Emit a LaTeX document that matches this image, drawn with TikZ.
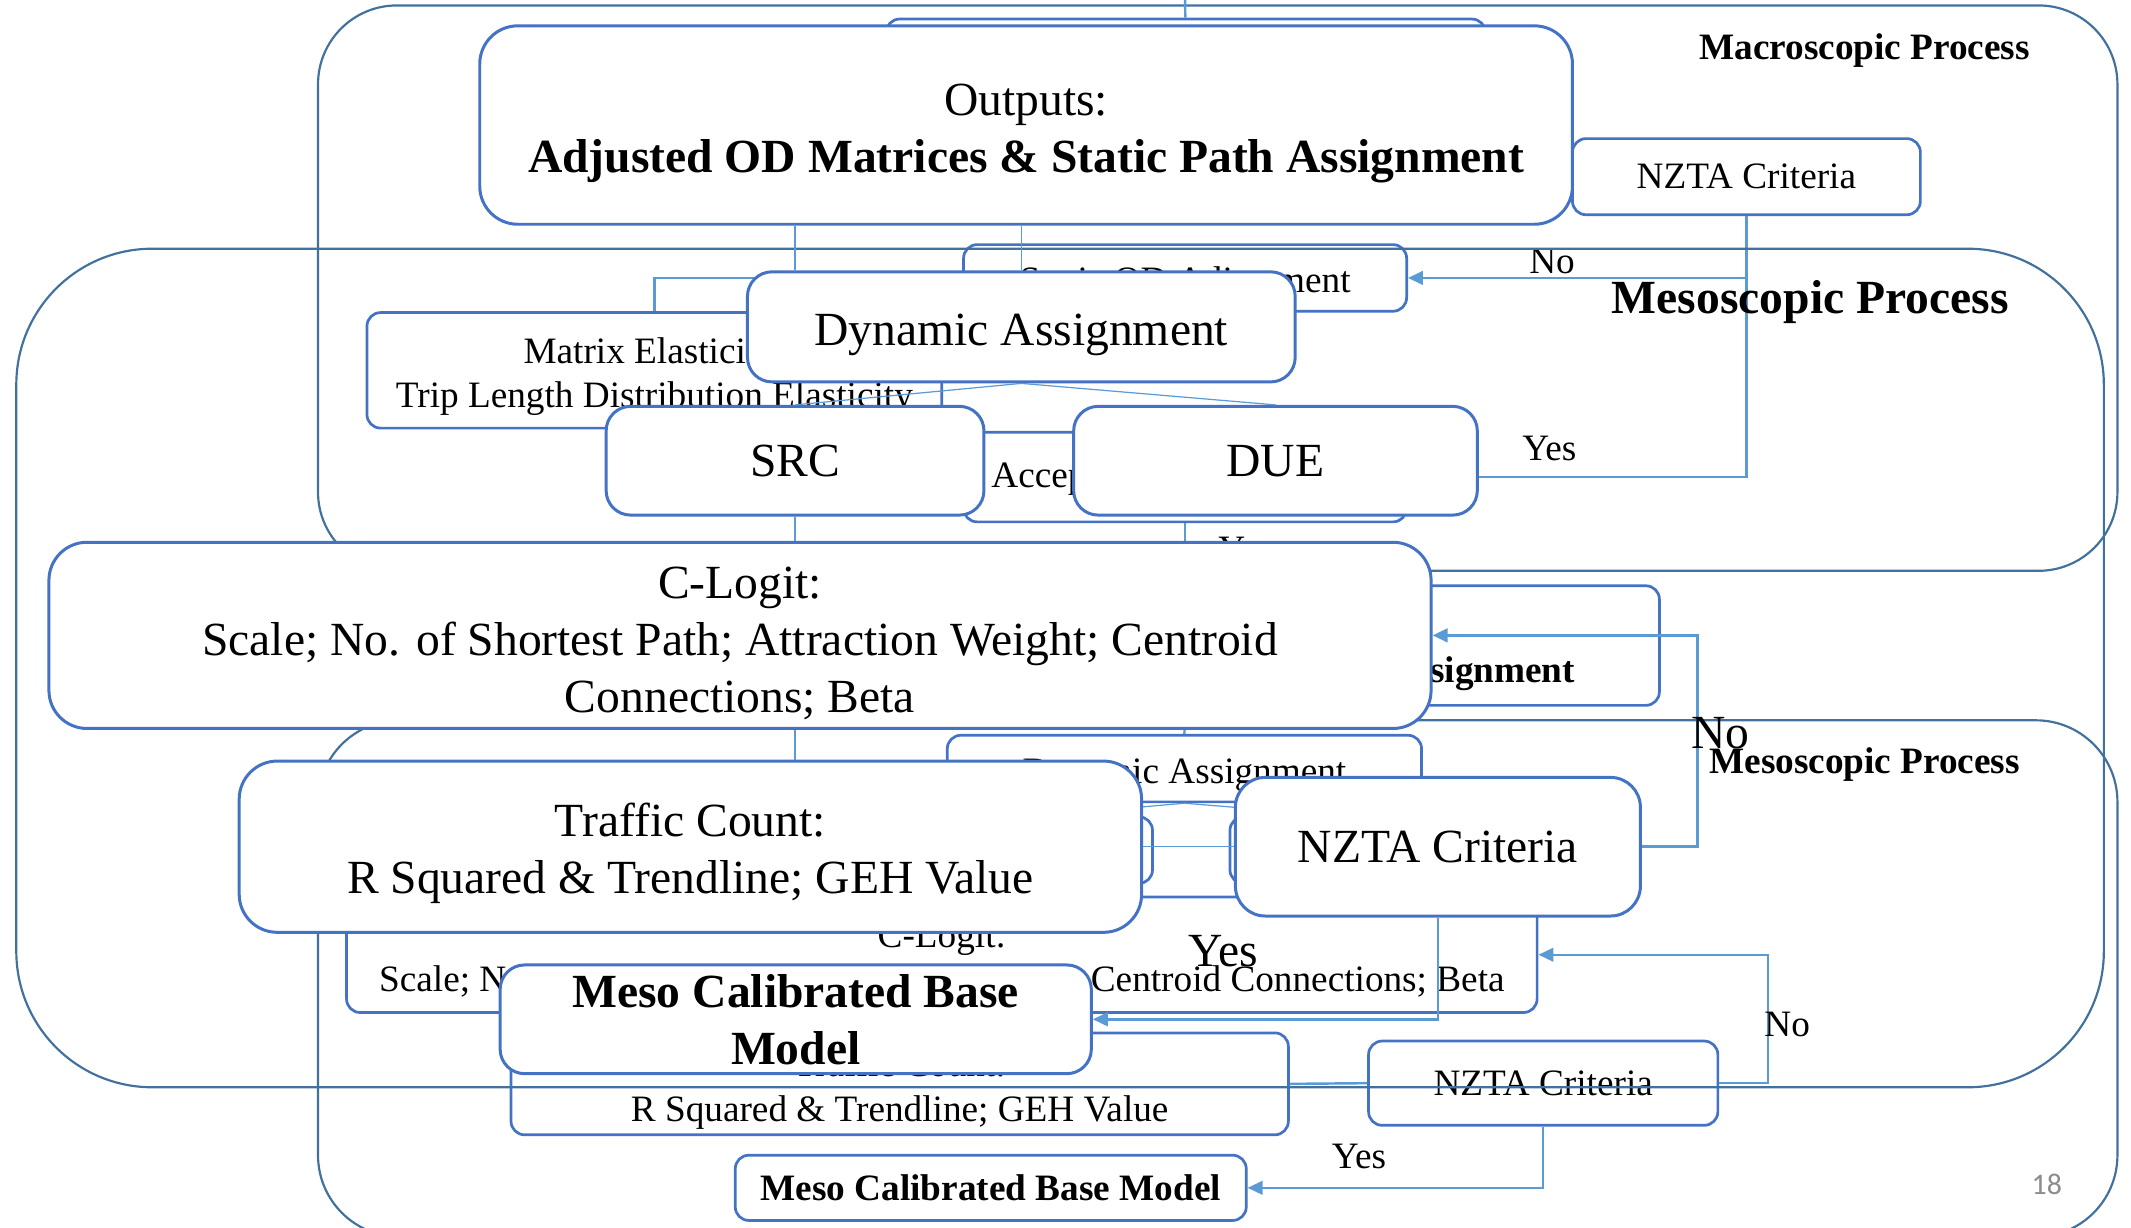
\documentclass[tikz,border=0pt]{standalone}
\usepackage{fontspec}
\setmainfont{Liberation Serif}
\newfontfamily\pagefont{Carlito}
\usepackage{xcolor}
\usetikzlibrary{arrows.meta}
\definecolor{framec}{HTML}{41719C}
\definecolor{boxc}{HTML}{4472C4}
\definecolor{flowc}{HTML}{5B9BD5}
\newcommand\bigtext{\fontsize{35}{42}\selectfont}
\newcommand\smalltext{\fontsize{27.4}{32.5}\selectfont}
\newcommand\bigstrut{\rule{0pt}{35pt}}
\newcommand\smallstrut{\rule{0pt}{28pt}}

\begin{document}
\begin{tikzpicture}[x=1pt, y=-1pt,
  outerframe/.style={draw=framec, line width=1.6pt},
  smallbox/.style={draw=boxc, line width=2pt, fill=white, rounded corners=10pt, inner sep=0pt, align=center, font=\smalltext},
  bigbox/.style={draw=boxc, line width=2.2pt, fill=white, rounded corners=18pt, inner sep=0pt, align=center, font=\bigtext},
  flow/.style={draw=flowc, line width=1.8pt},
  thinflow/.style={draw=flowc, line width=0.9pt},
  arrowed/.style={-{Triangle[length=11pt,width=10pt]}},
  every node/.style={font=\smalltext}]
  \useasboundingbox (0,0) rectangle (1568,903);

  % macroscopic slide
  \draw[outerframe, rounded corners=58pt] (234,4) rectangle (1558,420);
  \node[font=\smalltext\bfseries, anchor=base] at (1372,44) {Macroscopic Process};
  \node[smallbox, minimum width=441pt, minimum height=56pt] (mtop) at (872.5,42) {};
  \node[smallbox, minimum width=326pt, minimum height=49pt] (mstatic) at (872,204.5) {\smallstrut Static OD Adjustment};
  \node[smallbox, minimum width=423pt, minimum height=85pt] (mmatrix) at (481.5,272.5) {\smallstrut Matrix Elasticity;\\Trip Length Distribution Elasticity};
  \node[smallbox, minimum width=326pt, minimum height=66pt] (macc) at (872,351) {};
  \node[anchor=base west] at (726,359) {Accep};
  \node[smallbox, minimum width=256pt, minimum height=56pt] (mnzta) at (1285,130) {NZTA Criteria};
  \node[smallbox, minimum width=698pt, minimum height=88pt] (mout) at (872,475) {\smallstrut Outputs:\\\textbf{Adjusted OD Matrices \& Static Path Assignment}};
  \coordinate (mfeed) at (872,0);
  \draw[flow] (mfeed) -- (mtop);
  \draw[flow] (mstatic.west) -| (mmatrix.north);
  \draw[flow, arrowed] (mnzta.south) |- (mstatic.east);
  \draw[flow, arrowed] (mnzta.south) |- (macc.east);
  \draw[flow] (macc.south) -- (mout.north);
  \node[anchor=base] at (1142,201) {No};
  \node[anchor=base] at (1140,339) {Yes};
  \node[anchor=base west] at (893,413) {Yes};

  % lower mesoscopic slide
  \draw[outerframe, rounded corners=60pt] (234,530) rectangle (1558,910);
  \node[font=\smalltext\bfseries, anchor=base] at (1372,569) {Mesoscopic Process};
  \node[smallbox, minimum width=349pt, minimum height=49pt] (ldyn) at (871.5,565.5) {\smallstrut Dynamic Assignment};
  \node[smallbox, minimum width=158pt, minimum height=49pt] (lsrc) at (769,625.5) {SRC};
  \node[smallbox, minimum width=155pt, minimum height=49pt] (ldue) at (982.5,625.5) {DUE};
  \node[smallbox, minimum width=876pt, minimum height=85pt] (lclogit) at (693,702.5) {\smallstrut C-Logit:\\Scale; No. of Shortest Path; Attraction Weight; Centroid Connections; Beta};
  \node[smallbox, minimum width=572pt, minimum height=75pt] (ltraffic) at (662,797.5) {\smallstrut Traffic Count:\\R Squared \& Trendline; GEH Value};
  \node[smallbox, minimum width=257pt, minimum height=62pt] (lnzta) at (1135.5,797) {NZTA Criteria};
  \node[smallbox, minimum width=376pt, minimum height=48pt, font=\smalltext\bfseries] (lmeso) at (729,874) {Meso Calibrated Base Model};
  \draw[flow] (mout.south) -- (ldyn.north);
  \draw[thinflow] (ldyn.south) -- (lsrc.north);
  \draw[thinflow] (ldyn.south) -- (ldue.north);
  \draw[flow] (lclogit.south) -- (ltraffic.north);
  \draw[flow] (ltraffic.east) -- (lnzta.west);
  \draw[flow, arrowed] (lnzta.east) -- ++(36,0) |- (lclogit.east);
  \draw[flow, arrowed] (lnzta.south) |- (lmeso.east);
  \node[anchor=base] at (1315,763) {No};
  \node[anchor=base] at (1000,860) {Yes};
  \node[anchor=base, font=\pagefont\fontsize{22}{26}\selectfont, text=black!45] at (1506,879) {18};

  % mesoscopic slide, large
  \draw[outerframe, rounded corners=100pt] (12,183) rectangle (1548,800);
  \node[font=\bigtext\bfseries, anchor=base] at (1332,231) {Mesoscopic Process};
  \node[bigbox, rounded corners=28pt, minimum width=804pt, minimum height=146pt] (outputs) at (755,92) {\bigstrut Outputs:\\\textbf{Adjusted OD Matrices \& Static Path Assignment}};
  \node[bigbox, minimum width=403pt, minimum height=81pt] (dyn) at (751.5,240.5) {\bigstrut Dynamic Assignment};
  \node[bigbox, minimum width=278pt, minimum height=80pt] (src) at (585,339) {SRC};
  \node[bigbox, minimum width=297pt, minimum height=80pt] (due) at (938.5,339) {DUE};
  \node[bigbox, rounded corners=28pt, minimum width=1017pt, minimum height=137pt] (clogit) at (544.5,467.5) {\bigstrut C-Logit:\\Scale; No. of Shortest Path; Attraction Weight; Centroid\\Connections; Beta};
  \node[bigbox, rounded corners=28pt, minimum width=664pt, minimum height=126pt] (traffic) at (508,623) {\bigstrut Traffic Count:\\R Squared \& Trendline; GEH Value};
  \node[bigbox, rounded corners=22pt, minimum width=298pt, minimum height=102pt] (nzta) at (1058,623) {NZTA Criteria};
  \node[bigbox, minimum width=435pt, minimum height=80pt, font=\bigtext\bfseries] (meso) at (585.5,750) {Meso Calibrated Base\\Model};
  \draw[thinflow] (src.north |- outputs.south) -- (src.north |- dyn.north);
  \draw[thinflow] (dyn.north |- outputs.south) -- (dyn.north);
  \draw[thinflow] (dyn.south) -- (src.north);
  \draw[thinflow] (dyn.south) -- (due.north);
  \draw[thinflow] (src.south) -- (src.south |- clogit.north);
  \draw[thinflow] (src.south |- clogit.south) -- (src.south |- traffic.north);
  \draw[thinflow] (traffic.east) -- (nzta.west);
  \draw[flow, arrowed] (nzta.east) -- ++(41,0) |- (clogit.east);
  \draw[flow, arrowed] (nzta.south) |- (meso.east);
  \node[font=\bigtext, anchor=base] at (1266,551) {No};
  \node[font=\bigtext, anchor=base] at (900,711) {Yes};
\end{tikzpicture}
\end{document}
